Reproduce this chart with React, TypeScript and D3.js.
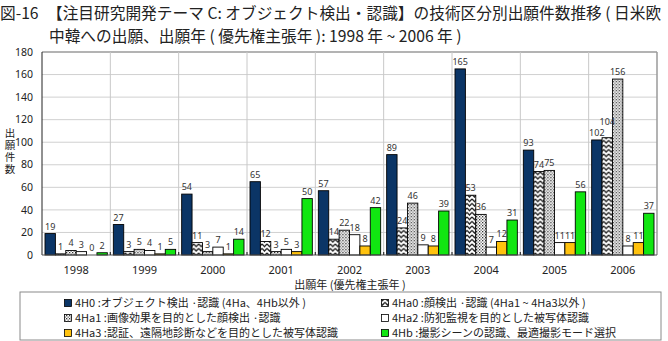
import React from 'react';
import * as d3 from 'd3';

// application years and the six technology categories
const years = ['1998', '1999', '2000', '2001', '2002', '2003', '2004', '2005', '2006'];
const seriesKeys = ['4H0', '4Ha0', '4Ha1', '4Ha2', '4Ha3', '4Hb'];
const seriesLabels = [
  '4H0 :オブジェクト検出 ·認識 (4Ha、4Hb以外 )',
  '4Ha0 :顔検出 ·認識 (4Ha1 ~ 4Ha3以外 )',
  '4Ha1 :画像効果を目的とした顔検出 ·認識',
  '4Ha2 :防犯監視を目的とした被写体認識',
  '4Ha3 :認証、遠隔地診断などを目的とした被写体認識',
  '4Hb :撮影シーンの認識、最適撮影モード選択',
];

const v4H0 = [19, 27, 54, 65, 57, 89, 165, 93, 102];
const v4Ha0 = [1, 3, 11, 12, 14, 24, 53, 74, 104];
const v4Ha1 = [4, 5, 3, 3, 22, 46, 36, 75, 156];
const v4Ha2 = [3, 4, 7, 5, 18, 9, 7, 11, 8];
const v4Ha3 = [0, 1, 1, 3, 8, 8, 12, 11, 11];
const v4Hb = [2, 5, 14, 50, 42, 39, 31, 56, 37];

const yTicks = [0, 20, 40, 60, 80, 100, 120, 140, 160, 180];

const seriesValues = [v4H0, v4Ha0, v4Ha1, v4Ha2, v4Ha3, v4Hb];
const fills = ['#0b3566', 'url(#zigzag)', 'url(#dots)', '#ffffff', '#ffc20e', '#11e611'];

const W = 668;
const H = 341;
const plot = { left: 42, right: 657, top: 52, bottom: 255 };

const tickFont = '"Noto Sans", "Open Sans", sans-serif';
const jpFont = '"Noto Sans CJK JP", sans-serif';
const labelSize = 9;

export default function App() {
  const x0 = d3.scaleBand<string>().domain(years).range([plot.left, plot.right]).padding(0);
  const x1 = d3.scaleBand<string>().domain(seriesKeys)
    .range([3, x0.bandwidth() - 3]).padding(0);
  const y = d3.scaleLinear().domain([0, 180]).range([plot.bottom, plot.top]);

  // value labels per year; nudge a label upward when it would collide with the previous one
  const labelsFor = (i: number) => {
    const out: { key: string; x: number; y: number; v: number }[] = [];
    seriesKeys.forEach((k, s) => {
      const v = seriesValues[s][i];
      const cx = (x1(k) as number) + x1.bandwidth() / 2;
      let ly = y(v) - 4;
      const w = String(v).length * labelSize * 0.5;
      const prev = out[out.length - 1];
      if (prev) {
        const pw = String(prev.v).length * labelSize * 0.5;
        const overlapX = Math.abs(cx - prev.x) < (w + pw) / 2;
        if (overlapX && Math.abs(ly - prev.y) < labelSize + 1) {
          ly = prev.y - (labelSize + 2);
        }
      }
      out.push({ key: k, x: cx, y: ly, v });
    });
    return out;
  };

  // legend: two columns, three rows
  const legendX = [68, 385];
  const legendY = [303, 318, 333];

  return (
    <svg width={W} height={H} style={{ position: 'absolute', left: 0, top: 0, background: '#fff' }}>
      <defs>
        <pattern id="zigzag" patternUnits="userSpaceOnUse" width={5} height={4.5}>
          <rect width={5} height={4.5} fill="#fff" />
          <path d="M0,0.8 L2.5,3.6 L5,0.8" fill="none" stroke="#111" strokeWidth={1.2} />
        </pattern>
        <pattern id="dots" patternUnits="userSpaceOnUse" width={3} height={3}>
          <rect width={3} height={3} fill="#fff" />
          <rect x={0} y={0} width={1.3} height={1.3} fill="#333" />
          <rect x={1.5} y={1.5} width={1.3} height={1.3} fill="#666" />
        </pattern>
      </defs>

      {/* title */}
      <g fontFamily={jpFont} fontSize={15.7} fill="#222">
        <text x={0} y={19}>図-16</text>
        <text x={47} y={19}>【注目研究開発テーマ C: オブジェクト検出・認識】の技術区分別出願件数推移 ( 日米欧</text>
        <text x={49} y={42}>中韓への出願、出願年 ( 優先権主張年 ): 1998 年 ~ 2006 年 )</text>
      </g>

      {/* gridlines */}
      {yTicks.filter(t => t > 0).map(t => (
        <line key={'h' + t} x1={plot.left} x2={plot.right} y1={y(t)} y2={y(t)}
          stroke={t === 180 ? '#9a9a9a' : '#d0d0d0'} strokeWidth={t === 180 ? 1.5 : 1} />
      ))}
      {years.slice(1).map(yr => (
        <line key={'v' + yr} x1={x0(yr)} x2={x0(yr)} y1={plot.top} y2={plot.bottom}
          stroke="#c8c8c8" />
      ))}
      <line x1={plot.right} x2={plot.right} y1={plot.top} y2={plot.bottom} stroke="#9a9a9a" strokeWidth={1.5} />

      {/* bars */}
      {years.map((yr, i) => (
        <g key={yr} transform={`translate(${x0(yr)},0)`}>
          {seriesKeys.map((k, s) => {
            const v = seriesValues[s][i];
            return (
              <rect key={k} x={x1(k)} y={y(v)} width={x1.bandwidth()}
                height={y(0) - y(v)} fill={fills[s]} stroke="#000" strokeWidth={0.9} />
            );
          })}
          {labelsFor(i).map(l => (
            <text key={'l' + l.key} x={l.x} y={l.y} textAnchor="middle"
              fontFamily={tickFont} fontSize={labelSize} fill="#333">{l.v}</text>
          ))}
        </g>
      ))}

      {/* axes */}
      <line x1={plot.left} x2={plot.left} y1={plot.top} y2={plot.bottom} stroke="#222" />
      <line x1={plot.left} x2={plot.right} y1={plot.bottom} y2={plot.bottom} stroke="#555" strokeWidth={1.2} />
      {years.slice(1).map(yr => (
        <line key={'t' + yr} x1={x0(yr)} x2={x0(yr)} y1={plot.bottom} y2={plot.bottom - 3}
          stroke="#333" strokeWidth={1.2} />
      ))}
      {yTicks.map(t => (
        <text key={'yt' + t} x={33} y={y(t)} dy="0.35em" textAnchor="end"
          fontFamily={tickFont} fontSize={10.5} fill="#222">{t}</text>
      ))}
      {years.map(yr => (
        <text key={'xt' + yr} x={(x0(yr) as number) + x0.bandwidth() / 2} y={270} dy="0.35em"
          textAnchor="middle" fontFamily={tickFont} fontSize={11} fill="#222">{yr}</text>
      ))}

      {/* axis titles */}
      <text x={10} y={128} fontFamily={jpFont} fontSize={10.5} fill="#222"
        style={{ writingMode: 'vertical-rl', letterSpacing: '1.5px' }}>出願件数</text>
      <text x={350} y={285} dy="0.35em" textAnchor="middle" fontFamily={jpFont}
        fontSize={11} fill="#222">出願年 (優先権主張年 )</text>

      {/* legend */}
      <rect x={20} y={292} width={641} height={48} fill="#fff" stroke="#8a8a8a" />
      {seriesLabels.map((lab, s) => {
        const col = s % 2;
        const row = Math.floor(s / 2);
        const lx = legendX[col];
        const ly = legendY[row];
        return (
          <g key={lab}>
            <rect x={lx - 3.5} y={ly - 3.5} width={7} height={7} fill={fills[s]} stroke="#000" strokeWidth={0.8} />
            <text x={lx + 7} y={ly} dy="0.35em" fontFamily={jpFont} fontSize={11} fill="#222">{lab}</text>
          </g>
        );
      })}
    </svg>
  );
}
